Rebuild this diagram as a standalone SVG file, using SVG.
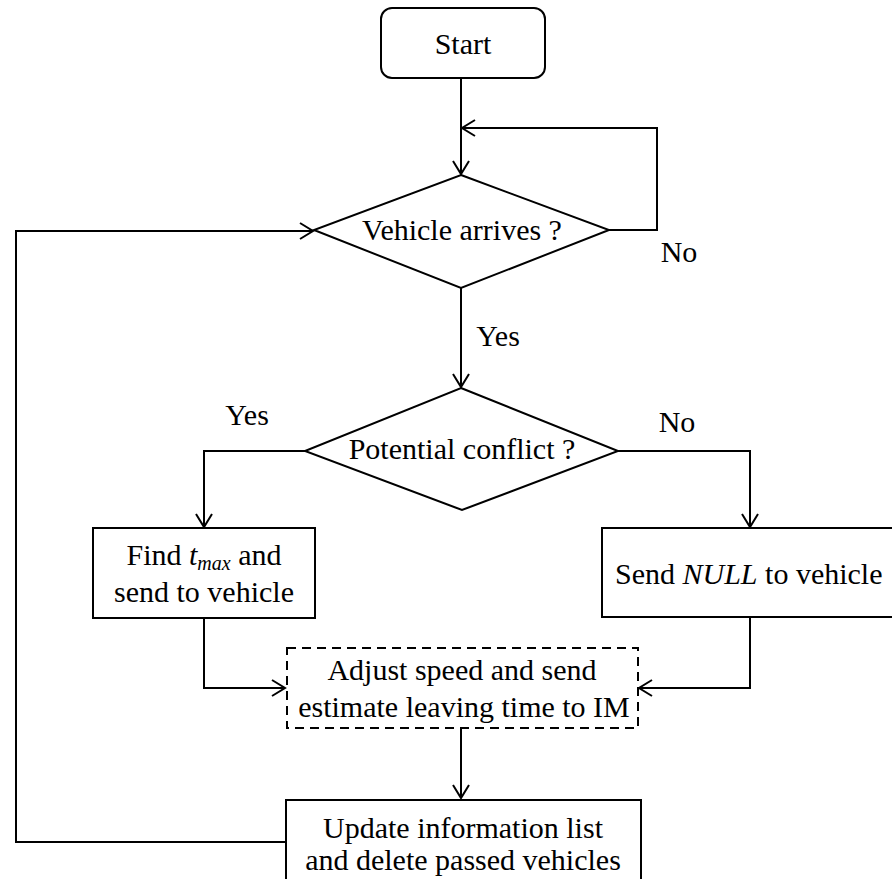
<svg xmlns="http://www.w3.org/2000/svg" width="892" height="879" viewBox="0 0 892 879">
<style>
.s{fill:#fff;stroke:#000;stroke-width:2}
.d{fill:#fff;stroke:#000;stroke-width:2;stroke-dasharray:9,6}
.c{fill:none;stroke:#000;stroke-width:2}
.t{font-family:'Liberation Serif','Times New Roman',serif;font-size:30px;fill:#000}
.m{text-anchor:middle}
</style>
<defs>
<marker id="a" markerUnits="userSpaceOnUse" markerWidth="16" markerHeight="20" refX="14" refY="9" orient="auto">
<path d="M1,1 L14,9 L1,17" fill="none" stroke="#000" stroke-width="2"/>
</marker>
</defs>
<rect width="892" height="879" fill="#fff"/>
<g id="connectors">
<path class="c" d="M461,78 V174" marker-end="url(#a)"/>
<path class="c" d="M609,230 H657 V128 H462" marker-end="url(#a)"/>
<path class="c" d="M461,288 V387" marker-end="url(#a)"/>
<path class="c" d="M305,451 H204 V527" marker-end="url(#a)"/>
<path class="c" d="M618,451 H750 V527" marker-end="url(#a)"/>
<path class="c" d="M204,618 V688 H285" marker-end="url(#a)"/>
<path class="c" d="M750,617 V688 H639" marker-end="url(#a)"/>
<path class="c" d="M461,728 V798" marker-end="url(#a)"/>
<path class="c" d="M286,842 H16 V231 H313" marker-end="url(#a)"/>
</g>
<g class="t">
<g id="start">
<rect class="s" x="381" y="8" width="164" height="70" rx="11"/>
<text class="m" x="463" y="54">Start</text>
</g>
<g id="vehicle-arrives">
<polygon class="s" points="461,175 609,230 461,288 314,230"/>
<text class="m" x="462" y="240">Vehicle arrives ?</text>
</g>
<g id="labels">
<text class="m" x="679" y="262">No</text>
<text class="m" x="498" y="346">Yes</text>
<text class="m" x="247" y="425">Yes</text>
<text class="m" x="677" y="432">No</text>
</g>
<g id="potential-conflict">
<polygon class="s" points="461,388 618,451 462,510 305,451"/>
<text class="m" x="462" y="459">Potential conflict ?</text>
</g>
<g id="find-tmax">
<rect class="s" x="93" y="528" width="222" height="90"/>
<text class="m" x="204" y="565">Find <tspan font-style="italic">t</tspan><tspan font-style="italic" font-size="20" dy="5">max</tspan><tspan dy="-5">  and</tspan></text>
<text class="m" x="204" y="602">send to vehicle</text>
</g>
<g id="send-null">
<rect class="s" x="602" y="528" width="300" height="89"/>
<text x="615" y="584">Send <tspan font-style="italic">NULL</tspan> to vehicle</text>
</g>
<g id="adjust-speed">
<rect class="d" x="287" y="648" width="351" height="80"/>
<text class="m" x="462" y="680">Adjust speed and send</text>
<text class="m" x="464" y="717">estimate leaving time to IM</text>
</g>
<g id="update-list">
<rect class="s" x="286" y="800" width="355" height="95"/>
<text class="m" x="463" y="838">Update information list</text>
<text class="m" x="463" y="870">and delete passed vehicles</text>
</g>
</g>
</svg>
